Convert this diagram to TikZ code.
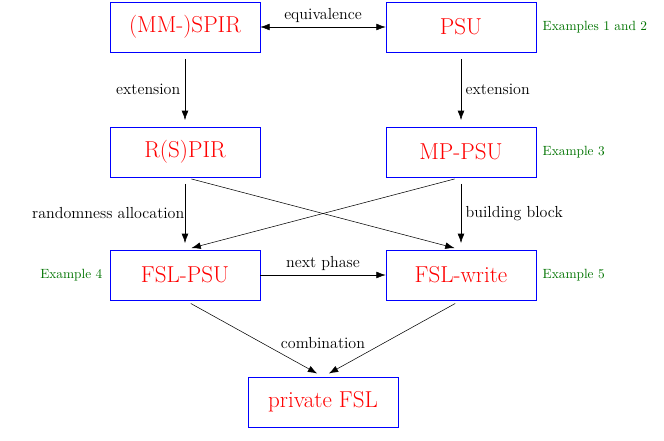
\documentclass[tikz,border=0pt]{standalone}
\usepackage{amsmath}
\usetikzlibrary{arrows.meta}
\tikzset{
  blk/.style={draw=blue, text=red, minimum width=112.5pt, minimum height=37.5pt, font=\LARGE},
  ex/.style={text=green!45!black, font=\normalsize, anchor=west},
  lbl/.style={font=\large},
  arr/.style={-{Latex[length=7pt,width=5pt]}, shorten >=5pt, shorten <=5pt}
}
\begin{document}
\begin{tikzpicture}[x=0.75pt, y=-0.75pt]
      \useasboundingbox (0,0) rectangle (664,440);

      % Boxes
      \node[blk] (spir) at (185,27) {(MM-)SPIR};
      \node[blk] (psu) at (461,27) {PSU};
      \node[blk] (rspir) at (185,152) {R(S)PIR};
      \node[blk] (mppsu) at (461,152) {MP-PSU};
      \node[blk] (fslpsu) at (185,275) {FSL-PSU};
      \node[blk] (fslwrite) at (461,275) {FSL-write};
      \node[blk] (fsl) at (323,402) {private FSL};

      % Examples
      \node[ex] (ex12) at (538,27) {Examples 1 and 2};
      \node[ex] (ex3) at (538,152) {Example 3};
      \node[ex, anchor=east] (ex4) at (107,275) {Example 4};
      \node[ex] (ex5) at (538,275) {Example 5};

      % Arrows
      \draw[{Latex[length=7pt,width=5pt]}-{Latex[length=7pt,width=5pt]}] (spir) -- node[lbl, above] {equivalence} (psu);
      \draw[arr] (spir) -- node[lbl, left] {extension} (rspir);
      \draw[arr] (psu) -- node[lbl, right] {extension} (mppsu);
      \draw[arr] (rspir) -- node[lbl, left, xshift=3pt] {randomness allocation} (fslpsu);
      \draw[arr] (mppsu) -- node[lbl, right] {building block} (fslwrite);
      \draw[arr] (rspir.south) -- (fslwrite.north);
      \draw[arr] (mppsu.south) -- (fslpsu.north);
      \draw[-{Latex[length=7pt,width=5pt]}] (fslpsu) -- node[lbl, above] {next phase} (fslwrite);
      \draw[arr] (fslpsu.south) -- (fsl.north);
      \draw[arr] (fslwrite.south) -- (fsl.north);
      \node[lbl] (comb) at (323,343) {combination};
\end{tikzpicture}
\end{document}
